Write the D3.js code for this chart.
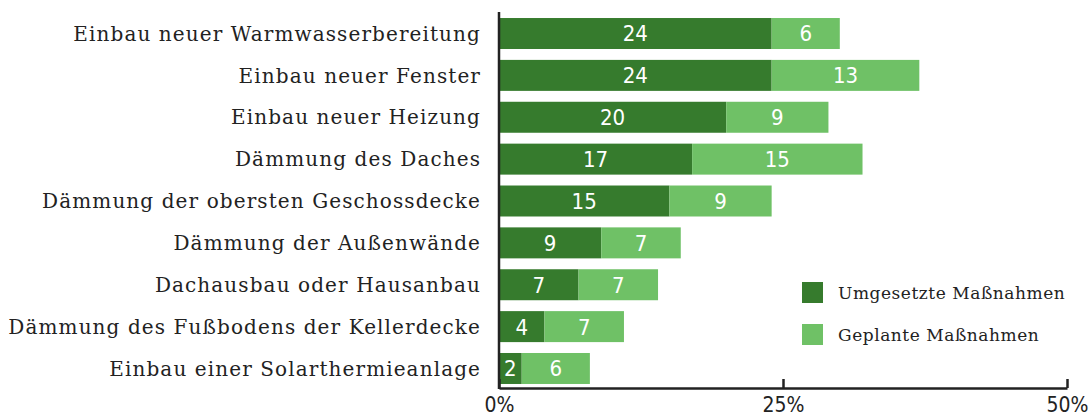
<!DOCTYPE html>
<html>
<head>
<meta charset="utf-8">
<script src="https://cdn.jsdelivr.net/npm/d3@7"></script>
<style>
  body { margin: 0; background: #fff; }
  .cat { font-family: "DejaVu Serif", serif; font-size: 20px; letter-spacing: 1.1px; fill: #222; }
  .val { font-family: "DejaVu Sans Condensed", "DejaVu Sans", sans-serif; font-size: 22px; fill: #fff; }
  .tick text { font-family: "DejaVu Sans Condensed", "DejaVu Sans", sans-serif; font-size: 21px; fill: #222; }
  .leg { font-family: "DejaVu Serif", serif; font-size: 17px; letter-spacing: 0.55px; fill: #222; }
</style>
</head>
<body>
<div id="chart"></div>
<script>
var categories = [
  "Einbau neuer Warmwasserbereitung",
  "Einbau neuer Fenster",
  "Einbau neuer Heizung",
  "Dämmung des Daches",
  "Dämmung der obersten Geschossdecke",
  "Dämmung der Außenwände",
  "Dachausbau oder Hausanbau",
  "Dämmung des Fußbodens der Kellerdecke",
  "Einbau einer Solarthermieanlage"
];
var umgesetzt = [24, 24, 20, 17, 15, 9, 7, 4, 2];
var geplant = [6, 13, 9, 15, 9, 7, 7, 7, 6];
var seriesNames = ["Umgesetzte Maßnahmen", "Geplante Maßnahmen"];
var tickValues = [0, 25, 50];

var width = 1092,
    height = 416;
var colors = ["#367b2d", "#6fc166"];

var svg = d3.select("#chart").append("svg")
    .attr("width", width)
    .attr("height", height);

var x = d3.scaleLinear().domain([0, 50]).range([499, 1067]);
var y = d3.scaleBand().domain(categories).range([13, 389])
    .paddingInner(0.26).paddingOuter(0.12);

var rows = categories.map(function(c, i) {
  return {name: c, a: umgesetzt[i], b: geplant[i]};
});

// bars
var row = svg.selectAll(".row")
    .data(rows)
    .enter().append("g")
    .attr("class", "row");

row.append("rect")
    .attr("x", x(0))
    .attr("y", function(d) { return y(d.name); })
    .attr("width", function(d) { return x(d.a) - x(0); })
    .attr("height", y.bandwidth())
    .attr("fill", colors[0]);

row.append("rect")
    .attr("x", function(d) { return x(d.a); })
    .attr("y", function(d) { return y(d.name); })
    .attr("width", function(d) { return x(d.a + d.b) - x(d.a); })
    .attr("height", y.bandwidth())
    .attr("fill", colors[1]);

row.append("text")
    .attr("class", "val")
    .attr("x", function(d) { return (x(0) + x(d.a)) / 2; })
    .attr("y", function(d) { return y(d.name) + y.bandwidth() / 2; })
    .attr("dy", "0.36em")
    .attr("text-anchor", "middle")
    .text(function(d) { return d.a; });

row.append("text")
    .attr("class", "val")
    .attr("x", function(d) { return (x(d.a) + x(d.a + d.b)) / 2; })
    .attr("y", function(d) { return y(d.name) + y.bandwidth() / 2; })
    .attr("dy", "0.36em")
    .attr("text-anchor", "middle")
    .text(function(d) { return d.b; });

// category labels
row.append("text")
    .attr("class", "cat")
    .attr("x", 481)
    .attr("y", function(d) { return y(d.name) + y.bandwidth() / 2; })
    .attr("dy", "0.36em")
    .attr("text-anchor", "end")
    .text(function(d) { return d.name; });

// axes
var xAxis = svg.append("g")
    .attr("transform", "translate(0,388)")
    .call(d3.axisBottom(x)
      .tickValues(tickValues)
      .tickSizeInner(-9)
      .tickSizeOuter(0)
      .tickPadding(9)
      .tickFormat(function(d) { return d + "%"; }));
xAxis.select(".domain").attr("stroke", "#222").attr("stroke-width", 2.5);
xAxis.selectAll(".tick line").attr("stroke", "#222").attr("stroke-width", 2.5);
xAxis.selectAll(".tick text").attr("dy", "0.71em");

svg.append("line")
    .attr("x1", x(0)).attr("x2", x(0))
    .attr("y1", 12).attr("y2", 389)
    .attr("stroke", "#222")
    .attr("stroke-width", 2.5);

// legend
var legend = svg.selectAll(".legend")
    .data(seriesNames)
    .enter().append("g")
    .attr("class", "legend")
    .attr("transform", function(d, i) { return "translate(802," + (282 + i * 42) + ")"; });

legend.append("rect")
    .attr("width", 21)
    .attr("height", 21)
    .attr("fill", function(d, i) { return colors[i]; });

legend.append("text")
    .attr("class", "leg")
    .attr("x", 36)
    .attr("y", 11)
    .attr("dy", "0.36em")
    .text(function(d) { return d; });
</script>
</body>
</html>
